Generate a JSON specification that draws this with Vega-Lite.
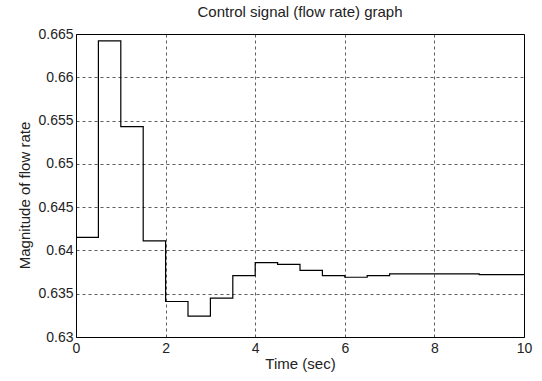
{
  "$schema": "https://vega.github.io/schema/vega-lite/v6.json",
  "width": 448,
  "height": 303,
  "autosize": {"type": "none"},
  "padding": {"left": 76, "top": 34, "right": 18, "bottom": 44},
  "background": "white",
  "title": {
    "text": "Control signal (flow rate) graph",
    "font": "Liberation Sans",
    "fontSize": 15,
    "fontWeight": "normal",
    "color": "#222",
    "anchor": "middle",
    "offset": 7
  },
  "config": {
    "view": {"stroke": "black", "strokeWidth": 1},
    "axis": {
      "labelFont": "Liberation Sans",
      "titleFont": "Liberation Sans",
      "labelFontSize": 14,
      "titleFontSize": 15,
      "titleFontWeight": "normal",
      "labelColor": "#222",
      "titleColor": "#222",
      "grid": true,
      "gridColor": "black",
      "gridDash": [3, 3],
      "gridOpacity": 0.8,
      "gridWidth": 0.8,
      "domain": false,
      "ticks": false
    }
  },
  "data": {
    "values": [
      {"t": 0, "v": 0.6415},
      {"t": 0.5, "v": 0.6642},
      {"t": 1.0, "v": 0.6543},
      {"t": 1.5, "v": 0.6411},
      {"t": 2.0, "v": 0.6341},
      {"t": 2.5, "v": 0.6324},
      {"t": 3.0, "v": 0.6345},
      {"t": 3.5, "v": 0.6371},
      {"t": 4.0, "v": 0.6386},
      {"t": 4.5, "v": 0.6384},
      {"t": 5.0, "v": 0.6377},
      {"t": 5.5, "v": 0.6371},
      {"t": 6.0, "v": 0.6369},
      {"t": 6.5, "v": 0.6371},
      {"t": 7.0, "v": 0.6373},
      {"t": 7.5, "v": 0.6373},
      {"t": 8.0, "v": 0.6373},
      {"t": 8.5, "v": 0.6373},
      {"t": 9.0, "v": 0.6372},
      {"t": 9.5, "v": 0.6372},
      {"t": 10.0, "v": 0.6372}
    ]
  },
  "mark": {"type": "line", "interpolate": "step-after", "color": "black", "strokeWidth": 1.2},
  "encoding": {
    "x": {
      "field": "t",
      "type": "quantitative",
      "scale": {"domain": [0, 10], "nice": false},
      "axis": {"values": [0, 2, 4, 6, 8, 10], "title": "Time (sec)", "labelPadding": 4, "titlePadding": 1, "labelFlush": false}
    },
    "y": {
      "field": "v",
      "type": "quantitative",
      "scale": {"domain": [0.63, 0.665], "nice": false, "zero": false},
      "axis": {"values": [0.63, 0.635, 0.64, 0.645, 0.65, 0.655, 0.66, 0.665], "format": "~g", "title": "Magnitude of flow rate", "labelPadding": 3, "titleX": -52, "titleY": 161, "titleBaseline": "middle", "titleAlign": "center", "labelFlush": false}
    }
  }
}
